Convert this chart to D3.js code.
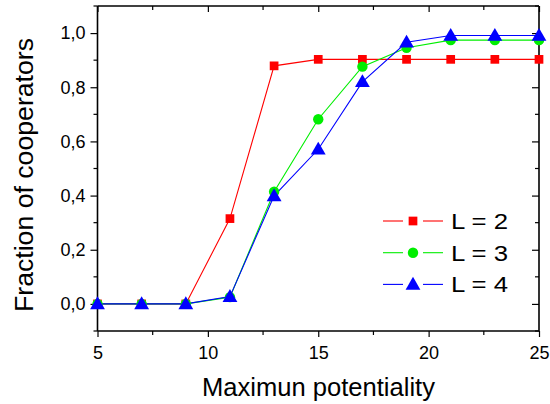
<!DOCTYPE html>
<html><head><meta charset="utf-8">
<script src="https://cdn.jsdelivr.net/npm/d3@7"></script>
<style>body{margin:0;background:#fff}svg{display:block}text{font-family:"Liberation Sans",Arial,sans-serif;fill:#000}</style>
</head><body><svg id="c" width="550" height="404"></svg>
<script>
const xValues = [5,7,9,11,13,15,17,19,21,23,25];
const seriesNames = ["L = 2","L = 3","L = 4"];
const seriesColors = ["#ff0000","#00ee00","#0000ff"];
const seriesSymbols = ["square","circle","triangle"];
const valuesL2 = [0,0,0,0.315,0.879,0.903,0.903,0.903,0.903,0.903,0.903];
const valuesL3 = [0,0,0,0.025,0.414,0.682,0.876,0.946,0.974,0.974,0.974];
const valuesL4 = [0,0,0,0.027,0.399,0.571,0.82,0.966,0.991,0.991,0.991];
const xTicks = [5,10,15,20,25];
const yTicks = [0,0.2,0.4,0.6,0.8,1.0];
const yTickLabels = ["0,0","0,2","0,4","0,6","0,8","1,0"];

const series = [valuesL2,valuesL3,valuesL4];
const svg = d3.select("#c");
const L=97.5,R=539,T=6,B=331;
const x = d3.scaleLinear().domain([5,25]).range([L,R]);
const y = d3.scaleLinear().domain([-0.1,1.1]).range([B,T]);

const g = svg.append("g");
const xMinor = d3.range(5,25.01,2.5);
const yMinor = d3.range(-0.1,1.101,0.1);
const bx = d3.axisBottom(x).tickValues(xTicks).tickFormat(d3.format("d")).tickSize(6).tickPadding(9);
const gb = g.append("g").attr("transform",`translate(0,${B})`).call(bx);
gb.append("g").selectAll("line").data(xMinor.filter(v=>!xTicks.includes(v))).join("line")
  .attr("x1",d=>x(d)).attr("x2",d=>x(d)).attr("y1",0).attr("y2",4).attr("stroke","#000").attr("stroke-width",1.2);
const ly = d3.axisLeft(y).tickValues(yTicks).tickFormat((d,i)=>yTickLabels[i]).tickSize(7).tickPadding(5);
const gl = g.append("g").attr("transform",`translate(${L},0)`).call(ly);
gl.append("g").selectAll("line").data(yMinor.filter(v=>!yTicks.some(t=>Math.abs(t-v)<1e-6))).join("line")
  .attr("y1",d=>y(d)).attr("y2",d=>y(d)).attr("x1",0).attr("x2",-4).attr("stroke","#000").attr("stroke-width",1.2);
const tx = d3.axisTop(x).tickValues(xTicks).tickFormat("").tickSize(-6);
const gt = g.append("g").attr("transform",`translate(0,${T})`).call(tx);
gt.append("g").selectAll("line").data(xMinor.filter(v=>!xTicks.includes(v))).join("line")
  .attr("x1",d=>x(d)).attr("x2",d=>x(d)).attr("y1",0).attr("y2",4).attr("stroke","#000").attr("stroke-width",1.2);
const ry = d3.axisRight(y).tickValues(yTicks).tickFormat("").tickSize(-7);
const gr = g.append("g").attr("transform",`translate(${R},0)`).call(ry);
gr.append("g").selectAll("line").data(yMinor.filter(v=>!yTicks.some(t=>Math.abs(t-v)<1e-6))).join("line")
  .attr("y1",d=>y(d)).attr("y2",d=>y(d)).attr("x1",0).attr("x2",-4).attr("stroke","#000").attr("stroke-width",1.2);
[gb,gl,gt,gr].forEach(a=>{
  a.select(".domain").attr("stroke","#000").attr("stroke-width",1.6);
  a.selectAll(".tick line").attr("stroke","#000").attr("stroke-width",1.2);
  a.selectAll(".tick text").attr("font-size",18).attr("font-family","Liberation Sans, Arial, sans-serif").attr("fill","#000");
});
gl.select(".domain").attr("d",`M0,${T}V${B}`);
gr.select(".domain").attr("d",`M0,${T}V${B}`);
gb.select(".domain").attr("d",`M${L},0H${R}`);
gt.select(".domain").attr("d",`M${L},0H${R}`);

const sym = {square:d3.symbolSquare,circle:d3.symbolCircle,triangle:d3.symbolTriangle};
const symSize = {square:76,circle:85,triangle:95};
const line = d3.line().x((d,i)=>x(xValues[i])).y(d=>y(d));
series.forEach((vals,k)=>{
  g.append("path").attr("d",line(vals)).attr("fill","none").attr("stroke",seriesColors[k]).attr("stroke-width",1.1);
});
series.forEach((vals,k)=>{
  g.append("g").selectAll("path").data(vals).join("path")
    .attr("transform",(d,i)=>`translate(${x(xValues[i])},${y(d)+(seriesSymbols[k]==="triangle"?1:0)})`)
    .attr("d",d3.symbol(sym[seriesSymbols[k]],symSize[seriesSymbols[k]]))
    .attr("fill",seriesColors[k]);
});
const leg = g.append("g");
seriesNames.forEach((n,k)=>{
  const yy = 221 + k*31.7;
  leg.append("line").attr("x1",383).attr("x2",403).attr("y1",yy).attr("y2",yy).attr("stroke",seriesColors[k]).attr("stroke-width",1.1);
  leg.append("line").attr("x1",423).attr("x2",443).attr("y1",yy).attr("y2",yy).attr("stroke",seriesColors[k]).attr("stroke-width",1.1);
  leg.append("path").attr("transform",`translate(413,${yy+(seriesSymbols[k]==="triangle"?1:0)})`)
    .attr("d",d3.symbol(sym[seriesSymbols[k]],symSize[seriesSymbols[k]])).attr("fill",seriesColors[k]);
  leg.append("text").attr("x",451).attr("y",yy+8).attr("font-size",22)
    .attr("textLength",57).attr("lengthAdjust","spacingAndGlyphs").text(n);
});
svg.append("text").attr("x",318.5).attr("y",396).attr("text-anchor","middle").attr("font-size",25)
  .attr("textLength",233).attr("lengthAdjust","spacingAndGlyphs").text("Maximun potentiality");
svg.append("text").attr("transform",`translate(33,175) rotate(-90)`).attr("text-anchor","middle").attr("font-size",25)
  .attr("textLength",274).attr("lengthAdjust","spacingAndGlyphs").text("Fraction of cooperators");
</script></body></html>
